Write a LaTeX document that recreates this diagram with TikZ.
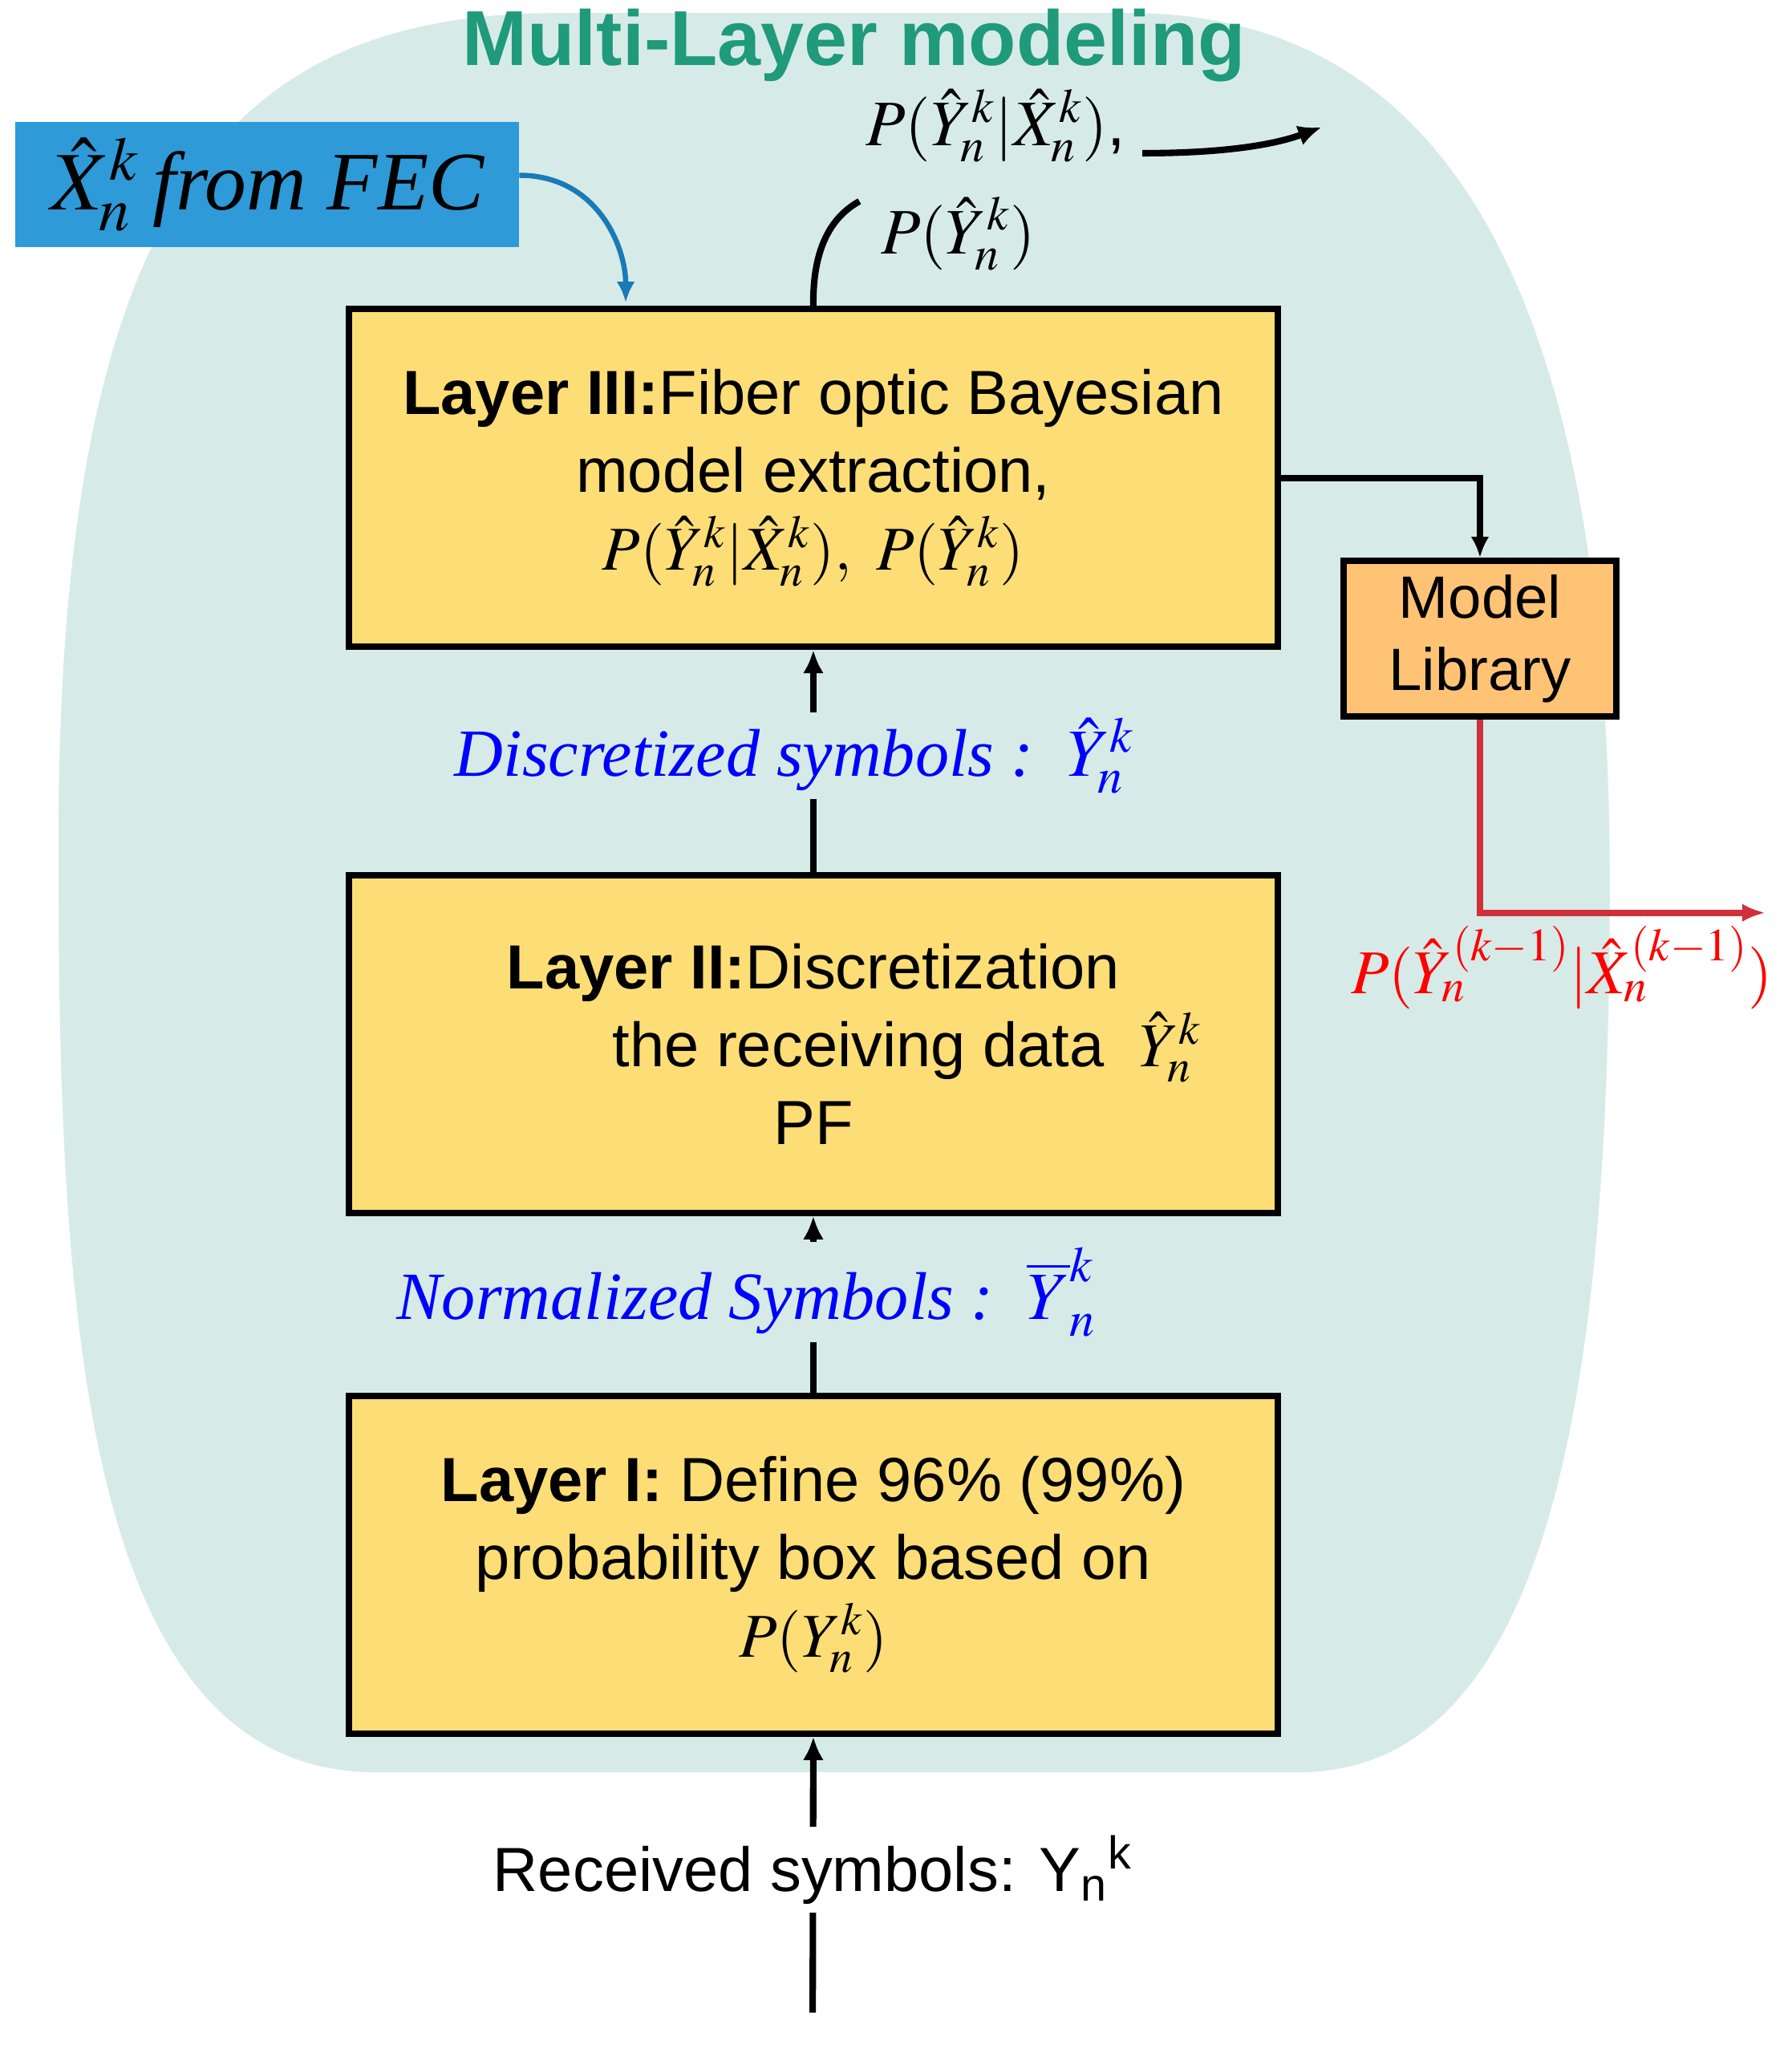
\documentclass[tikz,border=0pt]{standalone}
\usepackage{mathptmx}
\usepackage{fontspec}
\setmainfont{Liberation Sans}
\newfontfamily\serifit{Liberation Serif}
\usetikzlibrary{arrows.meta}
\begin{document}
\definecolor{bg}{HTML}{D6EBE7}
\definecolor{ttl}{HTML}{1F9A7A}
\definecolor{boxy}{HTML}{FDDD75}
\definecolor{boxo}{HTML}{FFC375}
\definecolor{fecb}{HTML}{2E9AD8}
\definecolor{arb}{HTML}{1A7AB8}
\definecolor{rd}{HTML}{D0303A}
\begin{tikzpicture}[x=0.5pt,y=-0.5pt,
  layer/.style={draw=black,line width=2.5pt,fill=boxy,minimum width=358pt,minimum height=130pt,align=center,font=\fontsize{24}{30}\selectfont},
  conn/.style={line width=2.5pt,-{Latex[length=9pt,width=8pt]}},
  lbl/.style={font=\fontsize{26}{30}\selectfont\serifit\itshape,text=blue,fill=bg,inner sep=2pt}]
\useasboundingbox (0,0) rectangle (1380,1575);
\fill[bg] (290,1365) .. controls (60,1365) and (45,1000) .. (45,650) .. controls (45,150) and (180,10) .. (430,10) -- (870,10) .. controls (1110,10) and (1240,220) .. (1240,680) .. controls (1240,1050) and (1200,1365) .. (1000,1365) -- cycle;
\node[font=\fontsize{30}{34}\selectfont\bfseries,text=ttl] (title) at (658,35) {Multi-Layer modeling};
\node[fill=fecb,minimum width=194pt,minimum height=48pt,inner sep=0pt,font=\fontsize{32}{36}\selectfont] (fec) at (206,142) {$\hat X_n^k$\,{\serifit\itshape from FEC}};
\node[layer] (L3) at (626.5,368) {\textbf{Layer III:}Fiber optic Bayesian\\model extraction,\\$P(\hat Y_n^k|\hat X_n^k),\ P(\hat Y_n^k)$};
\node[layer] (L2) at (626.5,804) {\textbf{Layer II:}Discretization\\\hspace{3em}the receiving data\ \ $\hat Y_n^k$\\PF};
\node[layer] (L1) at (626.5,1205) {\textbf{Layer I:} Define 96\% (99\%)\\probability box based on\\$P(Y_n^k)$};
\node[draw=black,line width=2.5pt,fill=boxo,minimum width=105pt,minimum height=60pt,inner sep=1pt,align=center,font=\fontsize{23}{28}\selectfont] (lib) at (1140,492) {Model\\Library};
\coordinate (fecs) at (400,135);
\draw[arb,line width=2pt,-{Latex[length=8pt,width=7pt]}] (fecs) .. controls (460,135) and (482,190) .. (482,233);
\coordinate (b0) at (626,1550);
\draw[conn] (b0) -- (L1.south);
\node[fill=white,font=\fontsize{24}{28}\selectfont] (rec) at (626,1440) {Received symbols: Y\textsubscript{n}\textsuperscript{k}};
\draw[conn] (L1.north) -- (L2.south);
\node[lbl] (ns) at (575,995) {Normalized Symbols :\ \ $\overline{Y}_n^k$};
\draw[conn] (L2.north) -- (L3.south);
\node[lbl] (ds) at (612,582) {Discretized symbols :\ \ $\hat Y_n^k$};
\coordinate (t1) at (662,155);
\draw[line width=2.5pt] (L3.north) .. controls (626,200) and (635,170) .. (t1);
\node[font=\fontsize{25}{28}\selectfont,inner sep=0pt] (p1) at (767,97) {$P(\hat Y_n^k|\hat X_n^k)$,};
\node[font=\fontsize{25}{28}\selectfont,inner sep=0pt] (p2) at (738,180) {$P(\hat Y_n^k)$};
\coordinate (a1) at (880,118);
\coordinate (a2) at (1018,98);
\draw[conn] (a1) .. controls (940,118) and (980,112) .. (a2);
\draw[line width=2.5pt,-{Latex[length=8pt,width=7pt]}] (L3.east |- 0,368) -- (1140,368) -- (lib.north);
\coordinate (r1) at (1360,703);
\draw[rd,line width=2.5pt,-{Latex[length=9pt,width=7pt]}] (lib.south) -- (1140,703) -- (r1);
\node[text=red,font=\fontsize{24}{26}\selectfont,inner sep=0pt] (pr) at (1203,745) {$P(\hat Y_n^{(k-1)}|\hat X_n^{(k-1)})$};
\end{tikzpicture}
\end{document}
